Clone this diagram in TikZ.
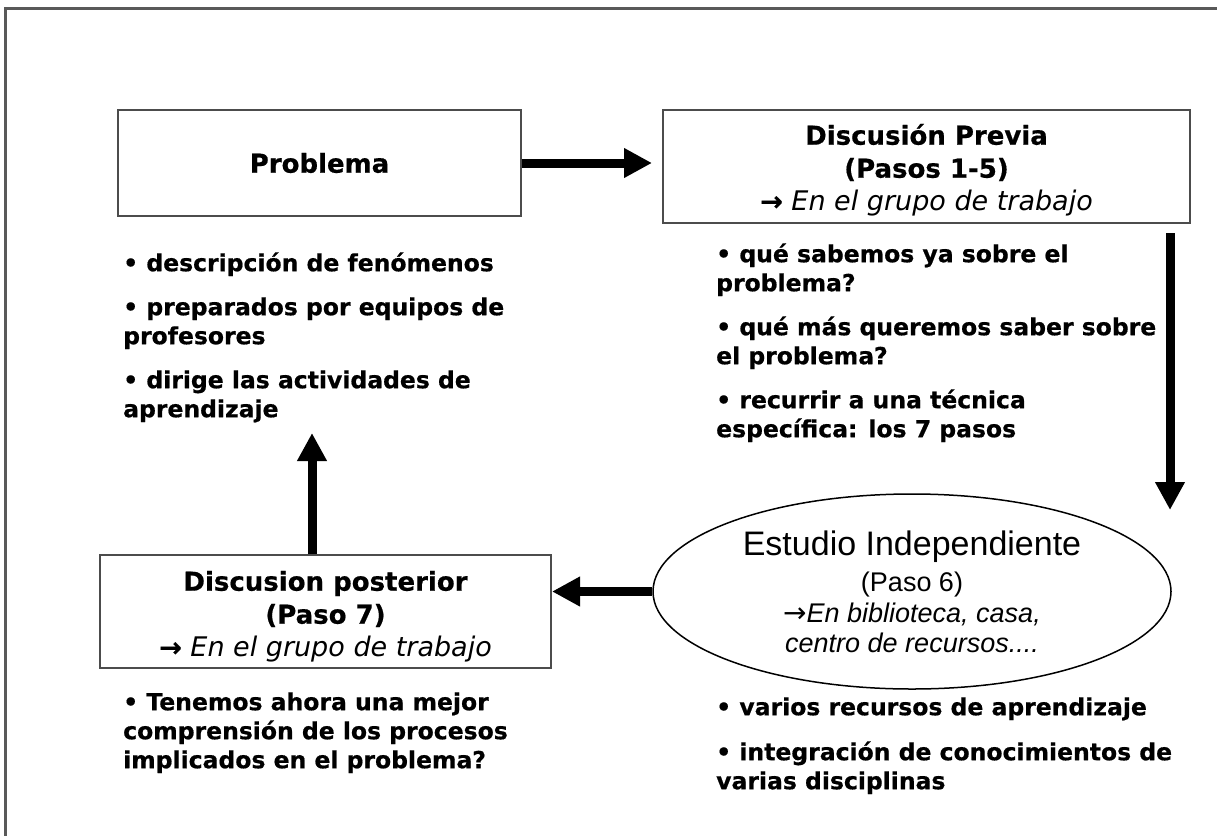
\documentclass[tikz,border=0pt]{standalone}
\usepackage{fontspec}
\setmainfont[BoldFeatures={FakeBold=0.6}]{DejaVu Sans}
\newfontfamily\arialf{Liberation Sans}
\newfontfamily\arrowf{DejaVu Sans}
\usetikzlibrary{arrows.meta,shapes.geometric}
\begin{document}
\begin{tikzpicture}[x=1pt,y=-1pt,
  boxnode/.style={draw=black!70, line width=2pt, align=center, inner sep=0pt,
    font=\bfseries\fontsize{26}{33}\selectfont},
  flow/.style={line width=9pt, -{Triangle[length=28pt,width=28pt]}},
  bullets/.style={anchor=north west, align=left, inner sep=0pt,
    font=\bfseries\fontsize{23.5}{29}\selectfont}]
\fill[white] (0,0) rectangle (1217,835);
\useasboundingbox (0,0) rectangle (1217,835);
% outer frame
\draw[black!65, line width=3pt] (5,840) -- (5,8) -- (1222,8);
% boxes
\node[boxnode, minimum width=403pt, minimum height=106pt] (prob) at (319.5,163) {Problema};
\node[boxnode, minimum width=527pt, minimum height=113pt] (disc) at (926.5,166.5)
  {\rule{0pt}{28pt}Discusión Previa\\(Pasos 1-5)\\{\mdseries\itshape\fontsize{27}{33}\selectfont{\bfseries\upshape →} En el grupo de trabajo}};
\node[boxnode, minimum width=451pt, minimum height=113pt] (post) at (325.5,611.5)
  {\rule{0pt}{30pt}Discusion posterior\\(Paso 7)\\{\mdseries\itshape\fontsize{27}{33}\selectfont{\bfseries\upshape →} En el grupo de trabajo}};
\node[ellipse, draw=black, line width=1.5pt, minimum width=518pt, minimum height=195pt,
  inner sep=0pt, align=center, font=\arialf\fontsize{27}{29}\selectfont] (ell) at (912,591.5)
  {{\fontsize{34}{36}\selectfont Estudio Independiente}\\[7pt](Paso 6)\\[2pt]{\itshape{\arrowf\fontsize{28}{29}\selectfont →}En biblioteca, casa,}\\[1pt]{\itshape centro de recursos....}};
% bullet texts
\node[bullets] (lb) at (123,250.7) {\strut• descripción de fenómenos\\[15pt]• preparados por equipos de\\profesores\\[15pt]• dirige las actividades de\\aprendizaje};
\node[bullets] (rb) at (716,241.7) {\strut• qué sabemos ya sobre el\\problema?\\[15pt]• qué más queremos saber sobre\\el problema?\\[15pt]• recurrir a una técnica\\específica: los 7 pasos};
\node[bullets] (llb) at (123,689.7) {\strut• Tenemos ahora una mejor\\comprensión de los procesos\\implicados en el problema?};
\node[bullets] (lrb) at (716,694.7) {\strut• varios recursos de aprendizaje\\[16pt]• integración de conocimientos de\\varias disciplinas};
% connectors
\draw[flow, shorten >=10pt] (prob.east) -- (prob.east -| disc.west);
\coordinate (dtop) at (1170,233);
\coordinate (dtip) at (1170,510);
\draw[flow] (dtop) -- (dtip);
\draw[flow] (ell.west) -- (ell.west -| post.east);
\coordinate (utip) at (312,433);
\draw[flow] (utip |- post.north) -- (utip);
\end{tikzpicture}
\end{document}
